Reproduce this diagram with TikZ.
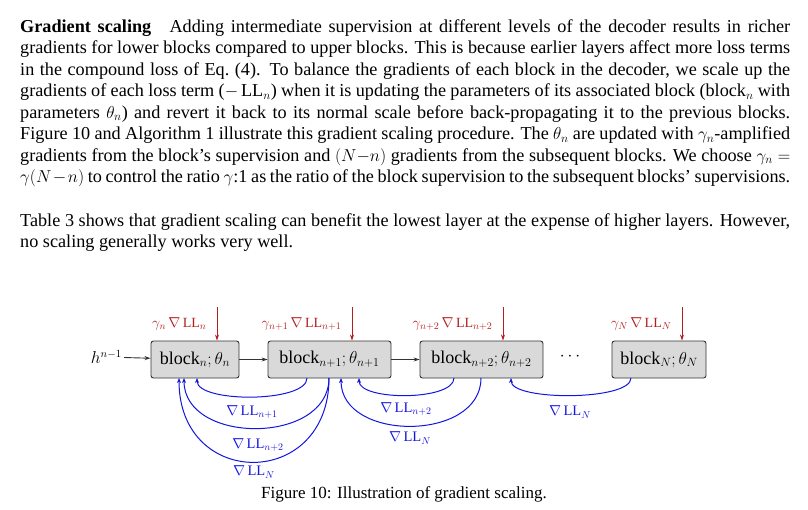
\documentclass[tikz,border=0pt]{standalone}
\usepackage{fontspec}
\setmainfont{Liberation Serif}
\usetikzlibrary{arrows.meta}
\definecolor{dred}{RGB}{180,30,30}
\definecolor{dblue}{RGB}{20,20,225}
\newcommand{\parasetup}{\fontsize{18.2}{21.5}\selectfont\hyphenpenalty=10000 \emergencystretch=20pt\relax}
\begin{document}
\begin{tikzpicture}[x=1pt,y=-1pt,
  blk/.style={draw=black!80,fill=black!15,rounded corners=2.5pt,line width=0.9pt,minimum height=37pt,inner sep=2pt,font=\fontsize{18}{18}\selectfont},
  sup/.style={-{Stealth[length=6pt,width=4pt]},dred,line width=1pt},
  slab/.style={dred,font=\fontsize{14}{14}\selectfont,anchor=east},
  fw/.style={-{Stealth[length=6pt,width=4pt]},black!80,line width=0.9pt},
  bw/.style={-{Stealth[length=5pt,width=4pt]},dblue,line width=1pt},
  blab/.style={dblue,font=\fontsize{14.5}{14.5}\selectfont},
  para/.style={anchor=north west,text width=770pt,align=justify,inner sep=0pt,font=\parasetup}]
\useasboundingbox (0,0) rectangle (808,509);
\node[para] (p1) at (20,19) {\textbf{Gradient scaling}\quad Adding intermediate supervision at different levels of the decoder results in richer gradients for lower blocks compared to upper blocks. This is because earlier layers affect more loss terms in the compound loss of Eq.~(4). To balance the gradients of each block in the decoder, we scale up the gradients of each loss term ($-\,\mathrm{LL}_n$) when it is updating the parameters of its associated block (block$_n$ with parameters $\theta_n$) and revert it back to its normal scale before back-propagating it to the previous blocks. Figure 10 and Algorithm 1 illustrate this gradient scaling procedure. The $\theta_n$ are updated with $\gamma_n$-amplified gradients from the block's supervision and $(N{-}n)$ gradients from the subsequent blocks. We choose $\gamma_n=\gamma(N-n)$ to control the ratio $\gamma$:1 as the ratio of the block supervision to the subsequent blocks' supervisions.};
\node[para] (p2) at (20,213) {Table 3 shows that gradient scaling can benefit the lowest layer at the expense of higher layers. However, no scaling generally works very well.};

\node[blk,minimum width=88pt] (b1) at (195,359.5) {$\mathrm{block}_n;\theta_n$};
\node[blk,minimum width=123pt] (b2) at (329.5,359.5) {$\mathrm{block}_{n+1};\theta_{n+1}$};
\node[blk,minimum width=123pt] (b3) at (481.5,359.5) {$\mathrm{block}_{n+2};\theta_{n+2}$};
\node[blk,minimum width=94pt] (bN) at (659,359.5) {$\mathrm{block}_N;\theta_N$};
\node[font=\fontsize{17}{17}\selectfont] (dots) at (570,357) {$\cdots$};
\node[anchor=east,inner sep=2pt,font=\fontsize{16}{16}\selectfont] (h) at (124,357) {$h^{n-1}$};
\draw[fw] (h) -- (b1);
\draw[fw] (b1) -- (b2);
\draw[fw] (b2) -- (b3);

\coordinate (s1) at (217,307); \coordinate (s2) at (352,307);
\coordinate (s3) at (503,307); \coordinate (sN) at (682,307);
\draw[sup] (s1) -- (s1 |- b1.north);
\draw[sup] (s2) -- (s2 |- b2.north);
\draw[sup] (s3) -- (s3 |- b3.north);
\draw[sup] (sN) -- (sN |- bN.north);
\node[slab] (l1) at (210,324) {$\gamma_n\,\nabla\,\mathrm{LL}_n$};
\node[slab] (l2) at (345,324) {$\gamma_{n+1}\,\nabla\,\mathrm{LL}_{n+1}$};
\node[slab] (l3) at (496,324) {$\gamma_{n+2}\,\nabla\,\mathrm{LL}_{n+2}$};
\node[slab] (lN) at (675,324) {$\gamma_N\,\nabla\,\mathrm{LL}_N$};

\coordinate (a1) at (307,378); \coordinate (t1) at (197,378);
\coordinate (a2) at (329,378); \coordinate (t2) at (184,378);
\coordinate (t3) at (179,378);
\coordinate (a4) at (454,378); \coordinate (t4) at (359,378);
\coordinate (a5) at (481,378); \coordinate (t5) at (341,378);
\coordinate (a6) at (631,378); \coordinate (t6) at (511,378);
\draw[bw] (a1) .. controls +(0,25) and +(0,25) .. (t1);
\draw[bw] (a2) .. controls +(0,67) and +(0,67) .. (t2);
\draw[bw] (a2) .. controls +(0,112) and +(0,112) .. (t3);
\draw[bw] (a4) .. controls +(0,23) and +(0,23) .. (t4);
\draw[bw] (a5) .. controls +(0,64) and +(0,64) .. (t5);
\draw[bw] (a6) .. controls +(0,23) and +(0,23) .. (t6);
\node[blab] (g1) at (252,412) {$\nabla\,\mathrm{LL}_{n+1}$};
\node[blab] (g2) at (258,445) {$\nabla\,\mathrm{LL}_{n+2}$};
\node[blab] (g3) at (254,472) {$\nabla\,\mathrm{LL}_N$};
\node[blab] (g4) at (406,409) {$\nabla\,\mathrm{LL}_{n+2}$};
\node[blab] (g5) at (410,438) {$\nabla\,\mathrm{LL}_N$};
\node[blab] (g6) at (570,412) {$\nabla\,\mathrm{LL}_N$};

\node[font=\fontsize{17}{17}\selectfont] (cap) at (404,494) {Figure 10: Illustration of gradient scaling.};
\end{tikzpicture}
\end{document}
